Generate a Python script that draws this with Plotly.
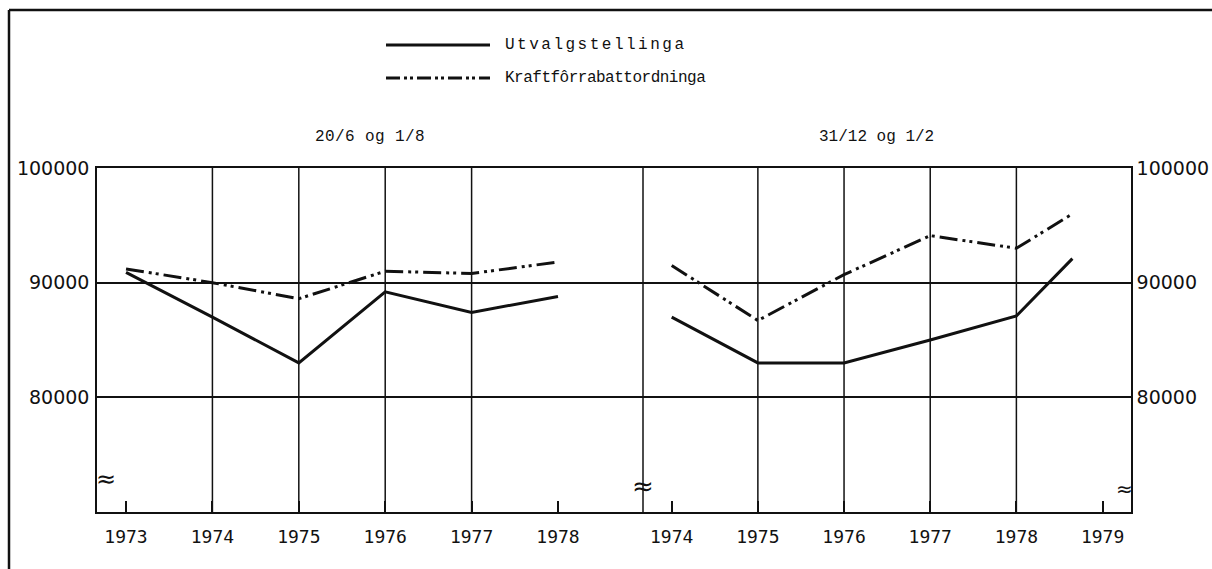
import plotly.graph_objects as go

# ---------------- data ----------------
years_left = [1973, 1974, 1975, 1976, 1977, 1978]
utval_left = [90900, 87000, 83000, 89200, 87400, 88800]
kraft_left = [91200, 90000, 88600, 91000, 90800, 91800]

years_right = [1974, 1975, 1976, 1977, 1978, 1978.65]
utval_right = [87000, 83000, 83000, 85000, 87100, 92100]
kraft_right = [91500, 86700, 90700, 94100, 93000, 96000]

ticks_left = [1973, 1974, 1975, 1976, 1977, 1978]
ticks_right = [1974, 1975, 1976, 1977, 1978, 1979]
grid_left = [1974, 1975, 1976, 1977]
grid_right = [1975, 1976, 1977, 1978]
y_ticks = [80000, 90000, 100000]

series_names = ["Utvalgstellinga", "Kraftfôrrabattordninga"]
panel_titles = ["20/6 og 1/8", "31/12 og 1/2"]

# ---------------- layout geometry ----------------
W, H = 1212, 569
ML, MR, MT, MB = 97, 81, 168, 57
PW, PH = W - ML - MR, H - MT - MB
SPLIT = (643 - ML) / PW

def px(x):
    return (x - ML) / PW

def py(y):
    return (H - MB - y) / PH

INK = "#111111"
DASHDOT = "18px,5px,3px,4px,3px,5px"

fig = go.Figure()
fig.add_trace(go.Scatter(x=years_left, y=utval_left, mode="lines", xaxis="x", yaxis="y",
                         line=dict(color=INK, width=3), name=series_names[0], showlegend=False))
fig.add_trace(go.Scatter(x=years_left, y=kraft_left, mode="lines", xaxis="x", yaxis="y",
                         line=dict(color=INK, width=3, dash=DASHDOT), name=series_names[1], showlegend=False))
fig.add_trace(go.Scatter(x=years_right, y=utval_right, mode="lines", xaxis="x2", yaxis="y2",
                         line=dict(color=INK, width=3), name=series_names[0], showlegend=False))
fig.add_trace(go.Scatter(x=years_right, y=kraft_right, mode="lines", xaxis="x2", yaxis="y2",
                         line=dict(color=INK, width=3, dash=DASHDOT), name=series_names[1], showlegend=False))

xfont = dict(family="DejaVu Sans Mono", size=18, color=INK)
yfont = dict(family="DejaVu Sans", size=19, color=INK)

common_x = dict(showgrid=False, zeroline=False, showline=True, linecolor=INK, linewidth=1.5,
                mirror=True, ticks="inside", ticklen=11, tickwidth=1.5, tickcolor=INK,
                tickfont=xfont, ticklabelstandoff=8, automargin=False)

fig.update_layout(
    width=W, height=H, autosize=False,
    margin=dict(l=ML, r=MR, t=MT, b=MB, pad=0, autoexpand=False),
    paper_bgcolor="white", plot_bgcolor="white",
    showlegend=False,
    xaxis=dict(domain=[0, SPLIT], range=[1972.664, 1978.984], tickvals=ticks_left,
               ticktext=[str(t) for t in ticks_left], anchor="y", **common_x),
    xaxis2=dict(domain=[SPLIT, 1], range=[1973.667, 1979.33], tickvals=ticks_right,
                ticktext=[str(t) for t in ticks_right], anchor="y2", **common_x),
    yaxis=dict(range=[70000, 100000], tickvals=y_ticks, ticktext=[str(v) for v in y_ticks],
               showgrid=True, gridcolor=INK, gridwidth=1.5, zeroline=False,
               showline=True, linecolor=INK, linewidth=1.5, ticks="", tickfont=yfont,
               anchor="x", side="left", ticklabelstandoff=2, automargin=False),
    yaxis2=dict(range=[70000, 100000], tickvals=y_ticks, ticktext=[str(v) for v in y_ticks],
                showgrid=True, gridcolor=INK, gridwidth=1.5, zeroline=False,
                showline=True, linecolor=INK, linewidth=1.5, ticks="", tickfont=yfont,
                anchor="x2", side="right", matches="y", ticklabelstandoff=0, automargin=False),
)

shapes = []
for g in grid_left:
    shapes.append(dict(type="line", xref="x", yref="y domain", x0=g, x1=g, y0=0, y1=1,
                       line=dict(color=INK, width=1.5), layer="below"))
for g in grid_right:
    shapes.append(dict(type="line", xref="x2", yref="y2 domain", x0=g, x1=g, y0=0, y1=1,
                       line=dict(color=INK, width=1.5), layer="below"))
# panel boundary
shapes.append(dict(type="line", xref="x2 domain", yref="y2 domain", x0=0, x1=0, y0=0, y1=1,
                   line=dict(color=INK, width=1.5)))
# outer frame (top and left edges visible)
shapes.append(dict(type="line", xref="paper", yref="paper", x0=px(9), x1=px(1215), y0=py(10), y1=py(10),
                   line=dict(color=INK, width=2.5)))
shapes.append(dict(type="line", xref="paper", yref="paper", x0=px(9), x1=px(9), y0=py(10), y1=py(572),
                   line=dict(color=INK, width=2.5)))
# legend samples
shapes.append(dict(type="line", xref="paper", yref="paper", x0=px(386), x1=px(490), y0=py(45), y1=py(45),
                   line=dict(color=INK, width=3)))
shapes.append(dict(type="line", xref="paper", yref="paper", x0=px(386), x1=px(490), y0=py(78), y1=py(78),
                   line=dict(color=INK, width=3, dash="14px,4px,3px,3px,3px,4px")))

tfont = dict(family="Liberation Mono", size=16, color=INK)
annotations = [
    dict(xref="paper", yref="paper", x=px(503), y=py(45), xanchor="left", yanchor="middle",
         text='<span style="letter-spacing:2.5px">' + series_names[0] + "</span>", showarrow=False, font=tfont),
    dict(xref="paper", yref="paper", x=px(503), y=py(78), xanchor="left", yanchor="middle",
         text='<span style="letter-spacing:-0.5px">' + series_names[1] + "</span>", showarrow=False, font=tfont),
    dict(xref="x domain", yref="paper", x=0.5, y=py(137), xanchor="center", yanchor="middle",
         text='<span style="letter-spacing:0.4px">' + panel_titles[0] + "</span>", showarrow=False, font=tfont),
    dict(xref="x2 domain", yref="paper", x=0.478, y=py(137), xanchor="center", yanchor="middle",
         text=panel_titles[1], showarrow=False, font=tfont),
    # axis break marks
    dict(xref="paper", yref="paper", x=px(106), y=py(479), xanchor="center", yanchor="middle",
         text="≈", showarrow=False, font=dict(family="DejaVu Sans", size=24, color=INK)),
    dict(xref="paper", yref="paper", x=px(643), y=py(486), xanchor="center", yanchor="middle",
         text="≈", showarrow=False, font=dict(family="DejaVu Sans", size=26, color=INK)),
    dict(xref="paper", yref="paper", x=px(1124), y=py(489), xanchor="center", yanchor="middle",
         text="≈", showarrow=False, font=dict(family="DejaVu Sans", size=20, color=INK)),
]
fig.update_layout(shapes=shapes, annotations=annotations)

fig.write_html(
    "out.html",
    config={"responsive": False, "displayModeBar": False},
    post_script="document.body.style.margin='0';document.body.style.overflow='hidden';",
)
